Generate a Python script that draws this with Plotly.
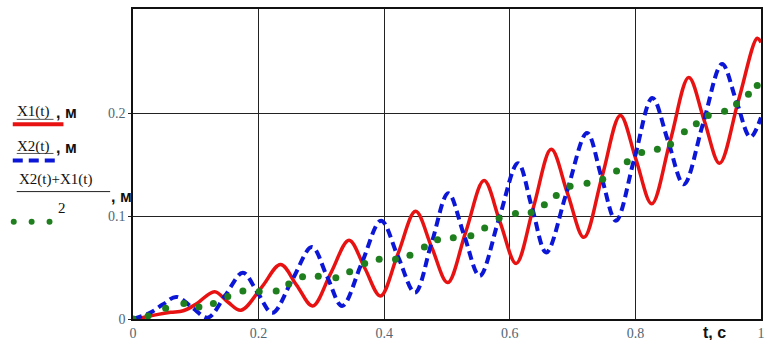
import plotly.graph_objects as go

# ---------------- data ----------------
x1_t = [0.0, 0.02, 0.04, 0.06, 0.08, 0.10, 0.130, 0.151, 0.172, 0.205, 0.235, 0.2605, 0.286,
        0.315, 0.344, 0.369, 0.394, 0.422, 0.450, 0.4755, 0.501, 0.530, 0.559, 0.5845, 0.610,
        0.638, 0.666, 0.692, 0.718, 0.747, 0.776, 0.801, 0.826, 0.8555, 0.885, 0.9095, 0.934,
        0.964, 0.994, 1.0]
x1_v = [0.0, 0.002, 0.0045, 0.0065, 0.008, 0.0143, 0.0265, 0.0165, 0.0085, 0.031, 0.053, 0.033, 0.0127,
        0.0447, 0.0767, 0.0496, 0.0224, 0.0636, 0.1047, 0.070, 0.0354, 0.085, 0.1346, 0.0943, 0.054,
        0.1095, 0.165, 0.122, 0.0794, 0.1387, 0.198, 0.155, 0.112, 0.1734, 0.2348, 0.1932, 0.1515,
        0.2123, 0.273, 0.269]

x2_t = [0.0, 0.027, 0.048, 0.069, 0.094, 0.119, 0.147, 0.175, 0.1985, 0.222, 0.2535, 0.285, 0.309,
        0.333, 0.364, 0.395, 0.422, 0.449, 0.4755, 0.502, 0.527, 0.552, 0.5825, 0.613, 0.6355,
        0.658, 0.6905, 0.723, 0.746, 0.769, 0.798, 0.827, 0.852, 0.877, 0.9075, 0.938, 0.9605,
        0.983, 1.0]
x2_v = [0.0, 0.006, 0.0143, 0.0215, 0.0114, 0.0013, 0.023, 0.045, 0.0255, 0.006, 0.038, 0.070, 0.0414,
        0.0127, 0.054, 0.0956, 0.0606, 0.0257, 0.074, 0.1223, 0.082, 0.042, 0.0968, 0.1515, 0.108,
        0.0647, 0.123, 0.181, 0.138, 0.0956, 0.155, 0.215, 0.173, 0.131, 0.1895, 0.248, 0.2125,
        0.177, 0.196]

avg_t = [0.0, 0.024, 0.052, 0.081, 0.105, 0.128, 0.151, 0.175, 0.201, 0.228, 0.248, 0.270, 0.295,
         0.323, 0.345, 0.369, 0.392, 0.418, 0.441, 0.464, 0.485, 0.510, 0.538, 0.560, 0.583,
         0.609, 0.634, 0.655, 0.674, 0.696, 0.723, 0.748, 0.770, 0.787, 0.810, 0.835, 0.856,
         0.878, 0.897, 0.916, 0.942, 0.961, 0.980, 0.994]
avg_v = [0.0, 0.003, 0.0104, 0.015, 0.0117, 0.015, 0.0218, 0.0273, 0.0267, 0.0273, 0.034, 0.041, 0.0416,
         0.040, 0.046, 0.054, 0.058, 0.058, 0.062, 0.070, 0.077, 0.079, 0.081, 0.0885, 0.098,
         0.1027, 0.1037, 0.111, 0.120, 0.129, 0.132, 0.136, 0.144, 0.153, 0.162, 0.165, 0.170,
         0.182, 0.190, 0.198, 0.202, 0.209, 0.2185, 0.227]

x_ticks = [0, 0.2, 0.4, 0.6, 0.8, 1]
x_tick_labels = ["0", "0.2", "0.4", "0.6", "0.8", "1"]
y_ticks = [0, 0.1, 0.2]
y_tick_labels = ["0", "0.1", "0.2"]

# ---------------- styling ----------------
RED = "#e81212"
BLUE = "#0b16d6"
GREEN = "#1f7f1f"
TICK_COL = "#4f6676"
SERIF = "Liberation Serif, Times New Roman, serif"
SANS = "Liberation Sans, Arial, sans-serif"

# design coordinates (reference pixels)
L, R, T, B = 133, 765, 9, 318
K = 348 / 340.0          # vertical design factor
W_FIG, H_FIG = 772, 348


def px(x):
    return (x - L) / (R - L)


def py(y):
    return (B - y) / (B - T)


fig = go.Figure()
fig.add_trace(go.Scatter(x=x1_t, y=x1_v, mode="lines",
                         line=dict(color=RED, width=3.5, shape="spline", smoothing=1.0)))
fig.add_trace(go.Scatter(x=x2_t, y=x2_v, mode="lines",
                         line=dict(color=BLUE, width=4, dash="9px,5px", shape="spline", smoothing=1.0)))
fig.add_trace(go.Scatter(x=avg_t, y=avg_v, mode="markers",
                         marker=dict(color=GREEN, size=7, line=dict(width=0))))

fig.update_layout(
    width=W_FIG, height=H_FIG, autosize=False,
    margin=dict(l=L, r=W_FIG - R, t=T * K, b=H_FIG - B * K, pad=0),
    paper_bgcolor="white", plot_bgcolor="white",
    showlegend=False,
    xaxis=dict(range=[0, 1], tickvals=x_ticks, ticktext=x_tick_labels,
               showgrid=True, gridcolor="#222", gridwidth=1, zeroline=False,
               showline=True, linecolor="#111", linewidth=1.5, mirror=True,
               ticks="", tickfont=dict(family=SERIF, size=14, color=TICK_COL)),
    yaxis=dict(range=[0, 0.3015], tickvals=y_ticks, ticktext=y_tick_labels,
               showgrid=True, gridcolor="#222", gridwidth=1, zeroline=False,
               showline=True, linecolor="#111", linewidth=1.5, mirror=True,
               ticks="outside", ticklen=3, tickcolor="#222",
               tickfont=dict(family=SERIF, size=14, color=TICK_COL)),
)

ann = []
shapes = []


def text(x, y, s, font, xanchor="left", size=15, color="#111"):
    ann.append(dict(x=px(x), y=py(y), xref="paper", yref="paper", text=s, showarrow=False,
                    xanchor=xanchor, yanchor="middle",
                    font=dict(family=font, size=size, color=color)))


def hline(x0, x1, y, color, width, dash=None):
    d = dict(type="line", xref="paper", yref="paper", x0=px(x0), x1=px(x1), y0=py(y), y1=py(y),
             line=dict(color=color, width=width))
    if dash:
        d["line"]["dash"] = dash
    shapes.append(d)


# legend: X1
text(14, 111, "X1(t)", SERIF, size=15)
text(53, 112, "<b>, м</b>", SANS, size=16)
hline(16, 53, 119, "#555", 1)
hline(12, 63, 124, RED, 4)
# legend: X2
text(14, 146, "X2(t)", SERIF, size=15)
text(53, 147, "<b>, м</b>", SANS, size=16)
hline(16, 53, 153, "#555", 1)
hline(12, 56, 160, BLUE, 4, dash="10px,6px")
# legend: average
text(16, 179, "X2(t)+X1(t)", SERIF, size=15)
hline(16, 110, 191, "#222", 1)
text(109, 196, "<b>, м</b>", SANS, size=16)
text(62, 207, "2", SERIF, size=15, xanchor="center")
for gx in (13, 31, 49):
    shapes.append(dict(type="circle", xref="paper", yref="paper",
                       x0=px(gx - 3), x1=px(gx + 3), y0=py(221 + 3), y1=py(221 - 3),
                       fillcolor=GREEN, line=dict(width=0)))
# x axis name
text(718, 331, "<b>t, с</b>", SANS, size=16, xanchor="center")

fig.update_layout(annotations=ann, shapes=shapes)
fig.write_html(
    "out.html",
    config={"displayModeBar": False, "responsive": False},
    post_script=(
        "var s=document.body.style;s.margin='0';s.padding='0';s.lineHeight='0';s.fontSize='0';"
        "s.overflow='hidden';document.documentElement.style.overflow='hidden';"
    ),
)
